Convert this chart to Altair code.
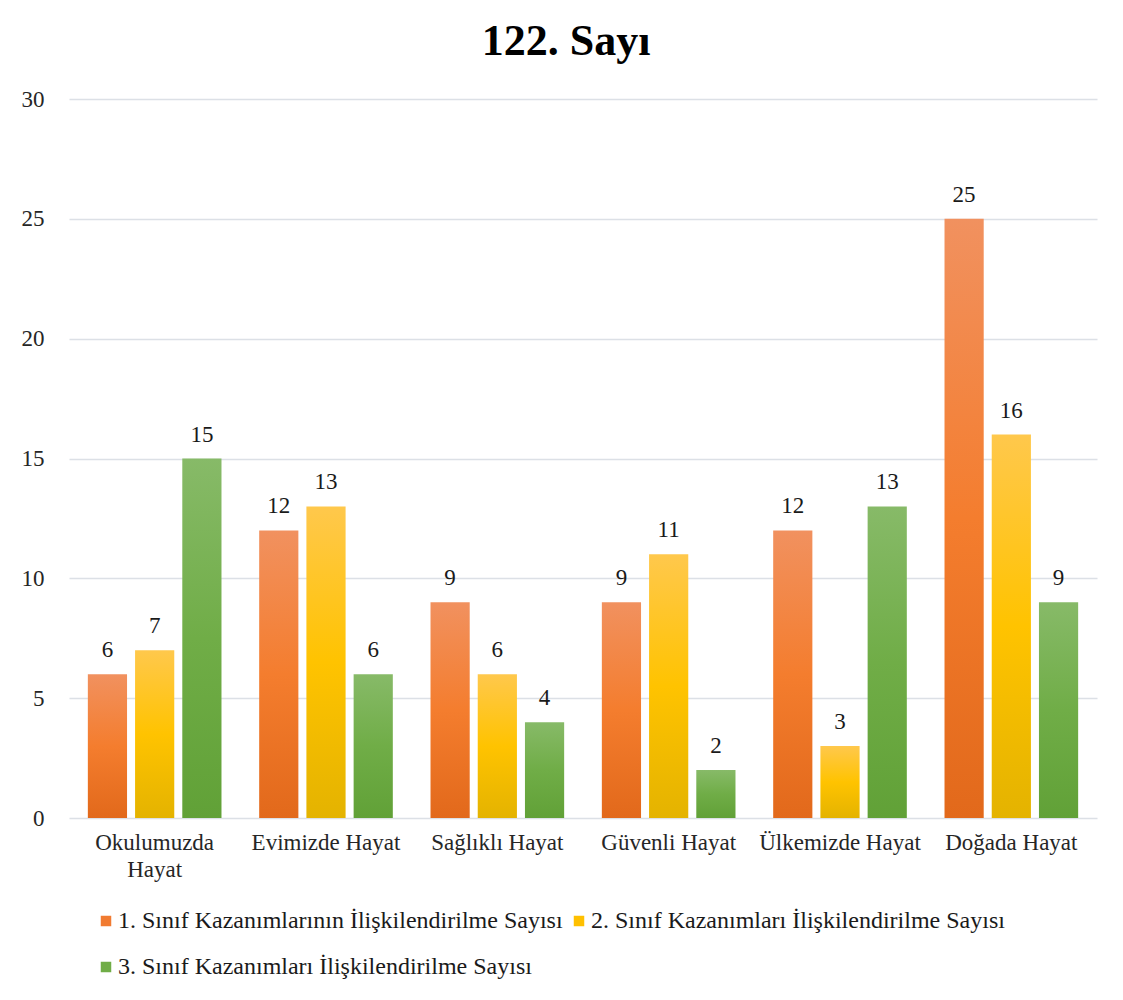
import altair as alt
import pandas as pd

categories = ["Okulumuzda Hayat", "Evimizde Hayat", "Sağlıklı Hayat",
              "Güvenli Hayat", "Ülkemizde Hayat", "Doğada Hayat"]
series = ["1. Sınıf Kazanımlarının İlişkilendirilme Sayısı",
          "2. Sınıf Kazanımları İlişkilendirilme Sayısı",
          "3. Sınıf Kazanımları İlişkilendirilme Sayısı"]
values_1 = [6, 12, 9, 9, 12, 25]
values_2 = [7, 13, 6, 11, 3, 16]
values_3 = [15, 6, 4, 2, 13, 9]
y_ticks = [0, 5, 10, 15, 20, 25, 30]

rows = []
for s, vals in zip(series, [values_1, values_2, values_3]):
    for c, v in zip(categories, vals):
        rows.append({"category": c, "series": s, "value": v})
df = pd.DataFrame(rows)

FONT = "Liberation Serif"
gradients = [
    ["#F1915F", "#F47D2E", "#E2691B"],
    ["#FFC84C", "#FFC300", "#E4B300"],
    ["#87BA68", "#70AD47", "#61A137"],
]
legend_colors = ["#F17B31", "#FFC000", "#70AD47"]

x_enc = alt.X("category:N", sort=categories,
              scale=alt.Scale(domain=categories, paddingInner=0.22, paddingOuter=0.11),
              axis=alt.Axis(title=None, labelAngle=0, domain=False, ticks=False,
                            labelFont=FONT, labelFontSize=23, labelColor="#262626",
                            labelPadding=13, labelLineHeight=27, labelLimit=200,
                            labelExpr="datum.label == 'Okulumuzda Hayat' ? ['Okulumuzda', 'Hayat'] : datum.label"))
xo_enc = alt.XOffset("series:N", sort=series,
                     scale=alt.Scale(domain=series, paddingInner=0.17, paddingOuter=0))
y_enc = alt.Y("value:Q", scale=alt.Scale(domain=[0, 30], nice=False),
              axis=alt.Axis(title=None, values=y_ticks, domain=False, ticks=False,
                            labelFont=FONT, labelFontSize=23, labelColor="#262626",
                            labelPadding=25, gridColor="#DCE0E6", gridWidth=1.6))

base = alt.Chart(df)
layers = []
for s, g in zip(series, gradients):
    grad = alt.Gradient(gradient="linear", x1=0, x2=0, y1=0, y2=1,
                        stops=[alt.GradientStop(color=g[0], offset=0),
                               alt.GradientStop(color=g[1], offset=0.5),
                               alt.GradientStop(color=g[2], offset=1)])
    layers.append(
        base.transform_filter(alt.datum.series == s)
        .mark_bar(color=grad)
        .encode(x=x_enc, xOffset=xo_enc, y=y_enc)
    )

text = base.mark_text(font=FONT, fontSize=23, color="#1a1a1a", baseline="alphabetic", dy=-17).encode(
    x=x_enc, xOffset=xo_enc, y=y_enc, text="value:Q")

legend_layer = base.mark_square(opacity=0, size=100).encode(
    x=x_enc, xOffset=xo_enc, y=y_enc,
    color=alt.Color("series:N", sort=series,
                    scale=alt.Scale(domain=series, range=legend_colors),
                    legend=alt.Legend(title=None, orient="none", legendX=25, legendY=810,
                                      direction="horizontal", columns=2,
                                      symbolType="square", symbolSize=110, symbolOpacity=1,
                                      symbolStrokeWidth=0,
                                      labelFont=FONT, labelFontSize=24, labelColor="#1a1a1a",
                                      labelOffset=0, columnPadding=4, rowPadding=22,
                                      labelLimit=700))
)

chart = alt.layer(*layers, text, legend_layer).properties(
    width=1028, height=719,
    background="white",
    title=alt.TitleParams("122. Sayı", font=FONT, fontSize=44, fontWeight="bold",
                          color="#000000", anchor="middle", frame="bounds", offset=24, dx=7),
    padding={"left": 13, "top": 12, "right": 10, "bottom": 10},
).configure_view(strokeWidth=0, stroke="transparent")

chart.save("out.html", embed_options={"renderer": "svg", "actions": False})
